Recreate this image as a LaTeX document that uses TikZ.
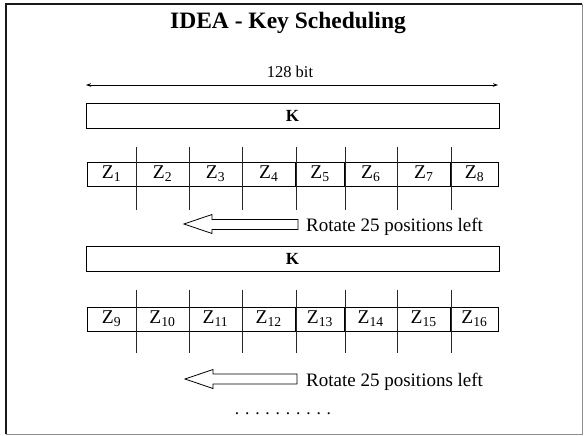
\documentclass[tikz,border=0pt]{standalone}
\usepackage{fontspec}
\setmainfont{Liberation Serif}
\usetikzlibrary{arrows.meta}
\tikzset{
  kbox/.style={draw, line width=0.9pt, minimum width=413pt, minimum height=24.5pt, inner sep=0pt, font=\fontsize{17}{19}\selectfont\bfseries},
  zcell/.style={draw, line width=0.9pt, minimum height=24pt, inner sep=0pt, font=\fontsize{19.5}{21}\selectfont},
  divider/.style={line width=0.9pt, draw=black!85},
  hollowarrow/.style={draw, line width=0.8pt, fill=white, line join=miter},
  lbl/.style={font=\fontsize{19}{21}\selectfont, inner sep=0pt}
}
\newcommand{\zlab}[1]{Z\textsubscript{#1}}
\begin{document}
\begin{tikzpicture}[x=1pt,y=-1pt]
\useasboundingbox (0,0) rectangle (584,436);
% frame
\draw[line width=1pt, black!45] (6,434) -- (582,434) -- (582,4);
\draw[line width=2pt, black!90] (6,434) -- (6,4) -- (582,4);
% title
\node[font=\fontsize{23.5}{26}\selectfont\bfseries, inner sep=0pt] (title) at (288,23) {IDEA - Key Scheduling};
% 128 bit
\coordinate (bl) at (86,85);
\coordinate (br) at (498,85);
\draw[line width=0.7pt, {Stealth[length=5pt,width=3.5pt]}-{Stealth[length=5pt,width=3.5pt]}] (bl) -- (br);
\node[font=\fontsize{16.5}{18}\selectfont, inner sep=0pt] (bits) at (290,72) {128 bit};
% K boxes
\node[kbox] (k1) at (292.5,116) {K};
\node[kbox] (k2) at (292.5,259) {K};
% Z rows
\def\xs{{87,136,189,242,295.5,344.5,397,450.5,498.5}}
\foreach \i in {0,...,7}{
  \pgfmathsetmacro{\xa}{\xs[\i]}
  \pgfmathsetmacro{\xb}{\xs[\i+1]}
  \pgfmathsetmacro{\xc}{(\xa+\xb)/2}
  \pgfmathsetmacro{\w}{\xb-\xa}
  \pgfmathtruncatemacro{\na}{\i+1}
  \pgfmathtruncatemacro{\nb}{\i+9}
  \node[zcell, minimum width=\w pt] (z\na) at (\xc,174) {\zlab{\na}};
  \node[zcell, minimum width=\w pt] (z\nb) at (\xc,319) {\zlab{\nb}};
}
\foreach \i in {1,...,7}{
  \pgfmathtruncatemacro{\j}{\i+8}
  \draw[divider] ([yshift=15pt]z\i.north east) -- ([yshift=-24pt]z\i.south east);
  \draw[divider] ([yshift=17pt]z\j.north east) -- ([yshift=-22pt]z\j.south east);
}
% rotate arrows
\draw[hollowarrow] (184,224) -- (212,214.5) -- (212,219.5) -- (298,219.5) -- (298,229.5) -- (212,229.5) -- (212,233.5) -- cycle;
\node[lbl, anchor=west] (rot1) at (306,226.5) {Rotate 25 positions left};
\draw[hollowarrow] (185,379) -- (213,369.5) -- (213,374) -- (297,374) -- (297,384) -- (213,384) -- (213,388.5) -- cycle;
\node[lbl, anchor=west] (rot2) at (306,381.5) {Rotate 25 positions left};
% dots
\node[font=\fontsize{17.5}{19}\selectfont, inner sep=0pt, anchor=base] (dots) at (283,414) {. . . . . . . . . .};
\end{tikzpicture}
\end{document}
